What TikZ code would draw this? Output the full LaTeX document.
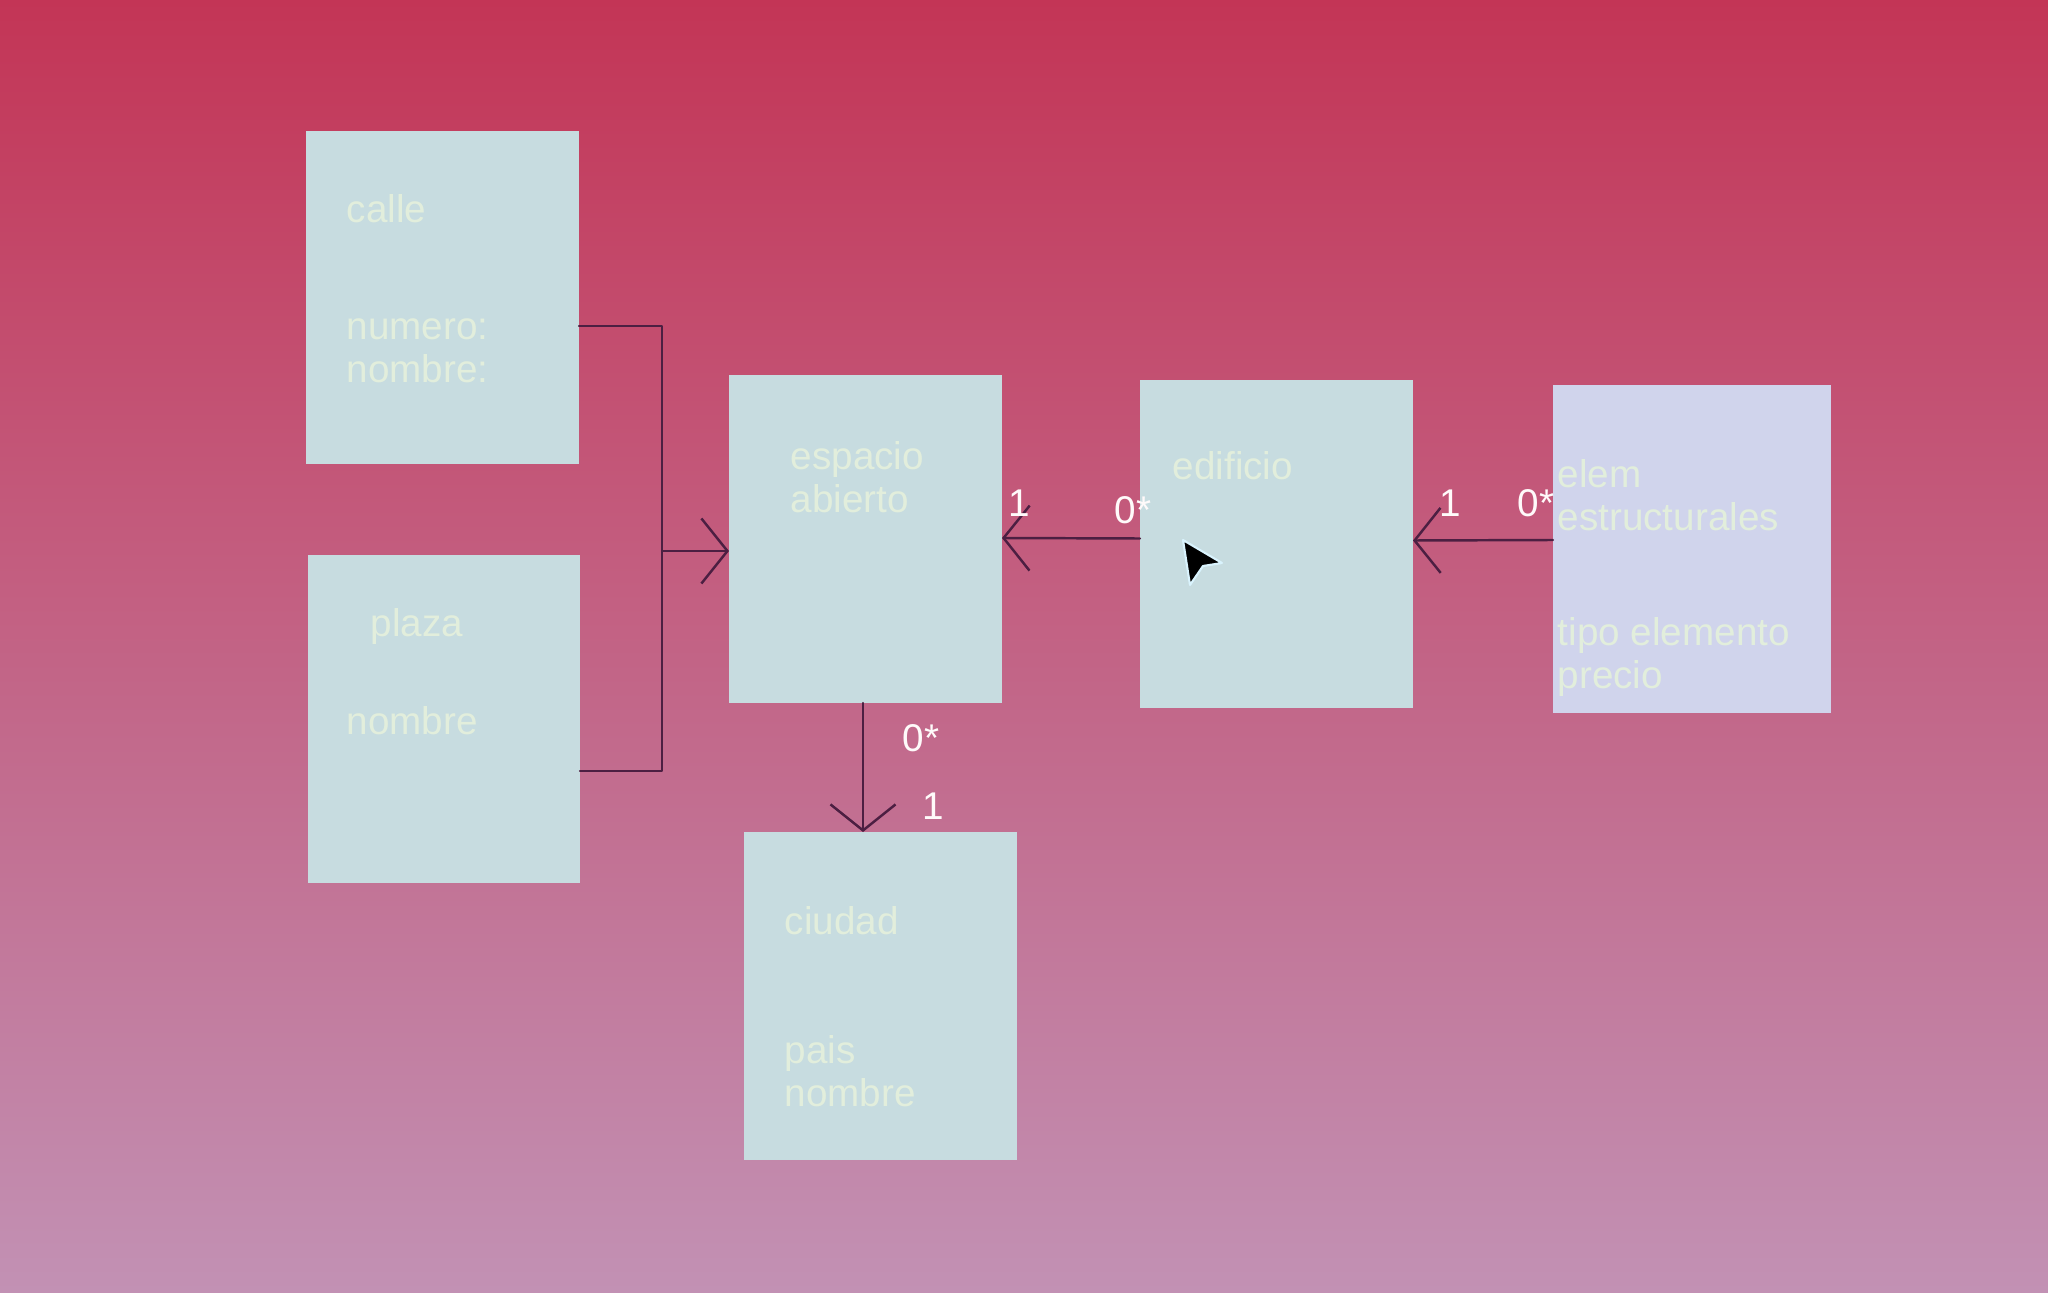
\documentclass[tikz,border=0pt]{standalone}
\usepackage{fontspec}
\setmainfont{Liberation Sans}
\usetikzlibrary{arrows.meta}
\definecolor{nenTren}{HTML}{C33556}
\definecolor{nenGiua}{HTML}{CA6088}
\definecolor{nenDuoi}{HTML}{C291B4}
\definecolor{mauHop}{HTML}{C7DCE0}
\definecolor{mauHopTim}{HTML}{D0D4EC}
\definecolor{mauChu}{HTML}{E2EEDC}
\definecolor{mauDuong}{HTML}{4C1F42}
\begin{document}
\begin{tikzpicture}[>=stealth,line join=round,line cap=round,font=\fontsize{11}{12.2}\selectfont,
	hop/.style={fill=mauHop,minimum width=2.73cm,minimum height=3.28cm,inner sep=0pt,outer sep=0pt,anchor=north west},
	chu/.style={text=mauChu,anchor=west,align=left,inner sep=0pt},
	soluong/.style={text=white!92!pink,inner sep=0pt},
	assoc/.style={draw=mauDuong,line width=0.7pt,-{Straight Barb[length=2.6mm,width=6.5mm]}},
	noi/.style={draw=mauDuong,line width=0.7pt}]
	% nen
	\useasboundingbox (0,0) rectangle (20.48,12.92);
	\shade[top color=nenTren,middle color=nenGiua,bottom color=nenDuoi] (0,0) rectangle (20.48,12.92);
	% ve cac hop
	\node[hop,minimum height=3.33cm] (calle) at (3.06,11.61) {};
	\node[hop,minimum width=2.72cm] (plaza) at (3.08,7.37) {};
	\node[hop] (espacio) at (7.29,9.17) {};
	\node[hop] (edificio) at (11.40,9.12) {};
	\node[hop,fill=mauHopTim,minimum width=2.78cm] (elem) at (15.53,9.07) {};
	\node[hop] (ciudad) at (7.44,4.60) {};
	% chu trong hop
	\node[chu] (calleT) at ([xshift=0.40cm,yshift=-0.78cm]calle.north west) {calle};
	\node[chu] (calleA) at ([xshift=0.40cm,yshift=-2.195cm]calle.north west) {numero:\\nombre:};
	\node[chu] (plazaT) at ([xshift=0.62cm,yshift=-0.72cm]plaza.north west) {plaza};
	\node[chu] (plazaA) at ([xshift=0.38cm,yshift=-1.66cm]plaza.north west) {nombre};
	\node[chu] (espacioT) at ([xshift=0.61cm,yshift=-1.02cm]espacio.north west) {espacio\\abierto};
	\node[chu] (edificioT) at ([xshift=0.32cm,yshift=-0.86cm]edificio.north west) {edificio};
	\node[chu] (elemT) at ([xshift=0.04cm,yshift=-1.10cm]elem.north west) {elem\\estructurales};
	\node[chu] (elemA) at ([xshift=0.04cm,yshift=-2.72cm]elem.north west) {tipo elemento\\precio};
	\node[chu] (ciudadT) at ([xshift=0.40cm,yshift=-0.89cm]ciudad.north west) {ciudad};
	\node[chu] (ciudadA) at ([xshift=0.40cm,yshift=-2.395cm]ciudad.north west) {pais\\nombre};
	% ve cac duong noi
	\path (6.62,9.66) coordinate (nA)
		(6.62,5.21) coordinate (nB)
		(6.62,7.41) coordinate (nM);
	\draw[noi] (calle.east |- nA) -- (nA) -- (nB) -- (plaza.east |- nB);
	\draw[assoc] (nM) -- (nM -| espacio.west);
	\draw[assoc] ([yshift=0.055cm]edificio.west) -- ([yshift=0.01cm]espacio.east);
	\draw[assoc] ([yshift=0.09cm]elem.west) -- ([yshift=0.035cm]edificio.east);
	\draw[assoc] ([xshift=-0.025cm]espacio.south) -- ([xshift=-0.025cm]espacio.south |- ciudad.north);
	% so luong
	\node[soluong] (s1) at (10.19,7.89) {1};
	\node[soluong] (s2) at (11.33,7.82) {0*};
	\node[soluong] (s3) at (14.50,7.89) {1};
	\node[soluong] (s4) at (15.36,7.89) {0*};
	\node[soluong] (s5) at (9.21,5.54) {0*};
	\node[soluong] (s6) at (9.33,4.86) {1};
	% con tro chuot
	\filldraw[draw=white!85!cyan,fill=black,line width=0.6pt] (11.83,7.52) -- (11.90,7.07) -- (12.03,7.26) -- (12.22,7.29) -- cycle;
\end{tikzpicture}
\end{document}
